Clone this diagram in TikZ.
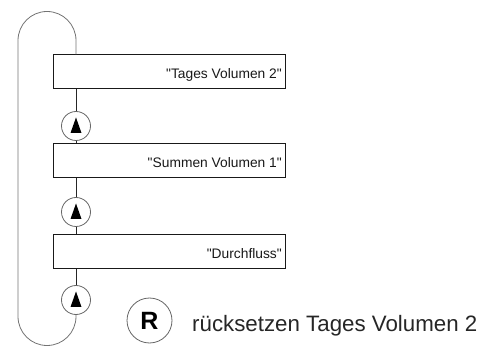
\documentclass[tikz,border=0pt]{standalone}
\usepackage{fontspec}
\setmainfont{Liberation Sans}[Ligatures=TeXOff]
\begin{document}
\begin{tikzpicture}[x=1pt,y=-1pt,
  box/.style={draw=black!90, line width=1pt, minimum width=232pt, minimum height=34pt, inner sep=0pt},
  boxtext/.style={anchor=base east, inner sep=0pt, text=black!90, font=\fontsize{13.8}{16}\selectfont},
  flow/.style={line width=1pt, draw=black!85},
  loopline/.style={line width=0.8pt, draw=black!55},
  marker/.style={circle, draw=black!60, line width=0.8pt, minimum size=29pt, inner sep=0pt},
  tri/.style={fill=black}]
\useasboundingbox (0,0) rectangle (498,347);
\begin{scope}
\clip (0,0) rectangle (498,347);
% boxes
\node[box] (b1) at (169,72) {};
\node[box] (b2) at (169,161) {};
\node[box] (b3) at (169,251.5) {};
\node[boxtext] (t1) at (282,79) {"Tages Volumen 2"};
\node[boxtext] (t2) at (282,168) {"Summen Volumen 1"};
\node[boxtext] (t3) at (282,258.5) {"Durchfluss"};
% markers
\node[marker] (c1) at (76,126) {};
\node[marker] (c2) at (76,212) {};
\node[marker] (c3) at (76,300) {};
\foreach \c in {c1,c2,c3}{
  \fill[tri] (\c) ++(0,-8.5) -- ++(5.5,15.5) -- ++(-11,0) -- cycle;
}
% flow lines
\draw[flow] (b1.south -| c1) -- (c1.north);
\draw[flow] (c1.south) -- (b2.north -| c1);
\draw[flow] (b2.south -| c2) -- (c2.north);
\draw[flow] (c2.south) -- (b3.north -| c2);
\draw[flow] (b3.south -| c3) -- (c3.north);
% loop
\draw[loopline] (b1.north -| c1) -- ++(0,-14) arc[start angle=0,end angle=180,radius=29pt]
  -- ++(0,276) arc[start angle=180,end angle=360,radius=29pt] -- (c3.south);
% reset legend
\node[circle, draw=black!60, line width=0.8pt, minimum size=45pt, inner sep=0pt,
  font=\bfseries\fontsize{25}{25}\selectfont] (r) at (149.5,320.5) {R};
\node[anchor=base west, inner sep=0pt, text=black!85, font=\fontsize{22.3}{26}\selectfont] (rt) at (192,331) {rücksetzen Tages Volumen 2};
\end{scope}
\end{tikzpicture}
\end{document}
